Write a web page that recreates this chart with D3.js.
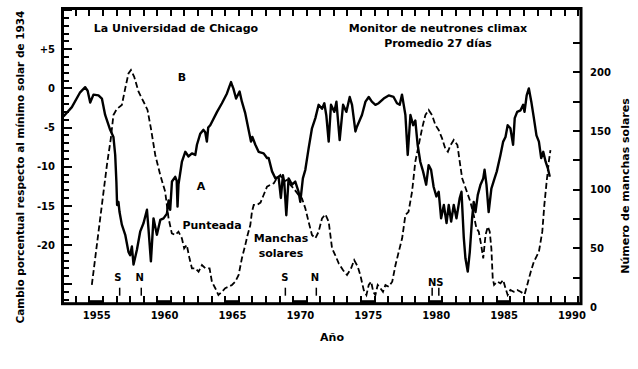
<!DOCTYPE html>
<html>
<head>
<meta charset="utf-8">
<script src="https://cdn.jsdelivr.net/npm/d3@7"></script>
<style>
  body { margin: 0; background: #fff; }
  svg { display: block; font-family: "DejaVu Sans", Verdana, sans-serif; font-weight: bold; }
</style>
</head>
<body>
<div id="chart"></div>
<script>
// neutron monitor, % change vs 1934 solar minimum (solid line)
const neutronYears = [1953.09,1953.71,1954.32,1954.69,1954.87,1955.06,1955.30,1955.67,1955.92,1956.16,1956.53,1956.77,1956.90,1956.99,1957.04,1957.14,1957.22,1957.39,1957.64,1957.88,1958.00,1958.13,1958.25,1958.50,1958.74,1958.99,1959.24,1959.35,1959.53,1959.72,1959.97,1960.22,1960.46,1960.71,1960.83,1960.95,1961.08,1961.32,1961.43,1961.49,1961.56,1961.81,1962.06,1962.30,1962.55,1962.80,1962.92,1963.16,1963.40,1963.53,1963.65,1963.75,1963.90,1964.40,1964.76,1965.13,1965.30,1965.43,1965.53,1965.60,1965.80,1966.06,1966.23,1966.48,1966.70,1966.90,1967.00,1967.22,1967.46,1967.83,1968.08,1968.20,1968.45,1968.70,1968.93,1969.10,1969.25,1969.35,1969.50,1969.67,1969.92,1970.16,1970.40,1970.53,1970.72,1970.90,1971.14,1971.39,1971.64,1971.88,1972.13,1972.30,1972.45,1972.62,1972.79,1973.04,1973.19,1973.43,1973.68,1973.92,1974.17,1974.34,1974.59,1974.70,1975.07,1975.33,1975.57,1975.80,1976.06,1976.30,1976.67,1977.04,1977.40,1977.65,1977.85,1978.02,1978.27,1978.44,1978.64,1978.84,1979.00,1979.17,1979.37,1979.57,1979.80,1979.98,1980.16,1980.35,1980.55,1980.72,1980.90,1981.10,1981.30,1981.46,1981.64,1981.83,1982.03,1982.27,1982.40,1982.57,1982.69,1982.86,1983.01,1983.18,1983.30,1983.43,1983.60,1983.80,1984.00,1984.10,1984.24,1984.40,1984.60,1984.80,1985.00,1985.27,1985.47,1985.64,1985.80,1986.00,1986.20,1986.32,1986.50,1986.75,1986.94,1987.04,1987.20,1987.36,1987.54,1987.73,1987.92,1988.10,1988.27,1988.42,1988.60,1988.76,1988.90];
const neutronPct = [-3.6,-2.4,-0.5,0.15,-0.3,-1.8,-0.8,-0.9,-1.3,-3.4,-5.3,-6.2,-8.5,-12,-14.9,-14.5,-15.8,-17.4,-18.7,-20.9,-21.3,-20.2,-22.5,-20.6,-18.3,-17.2,-15.5,-17.9,-22.1,-16.6,-18.7,-16.8,-16.6,-16.0,-14.3,-15.5,-11.9,-11.3,-11.8,-15.1,-12.3,-9.4,-8.1,-8.7,-8.3,-8.5,-7.2,-5.8,-5.3,-5.6,-6.8,-5.0,-4.7,-3.0,-1.9,-0.65,0.2,0.8,0.3,0,-1.3,-0.4,-1.7,-3.2,-5.1,-6.8,-6.2,-7.2,-8.1,-8.3,-8.9,-8.9,-10.6,-11.5,-11.3,-14.0,-11.1,-12.0,-16.2,-11.5,-12.3,-11.9,-13.2,-14.5,-11.5,-10.4,-7.7,-5.1,-3.8,-2.1,-2.6,-1.9,-3.5,-6.8,-2.1,-3.0,-1.7,-6.6,-2.1,-3.0,-1.1,-2.1,-5.5,-4.9,-3.4,-1.7,-1.1,-1.7,-2.1,-1.9,-1.3,-0.9,-1.1,-1.9,-2.1,-0.8,-3.4,-8.5,-3.4,-4.7,-4.1,-7.2,-9.4,-10.6,-12.3,-9.8,-10.4,-12.6,-13.8,-13.2,-16.6,-14.9,-17.2,-14.9,-17.0,-14.9,-16.6,-14.0,-13.2,-19.1,-21.7,-23.4,-20.9,-16.6,-14.5,-15.8,-13.6,-12.3,-11.5,-10.4,-12.3,-15.8,-12.8,-11.7,-10.6,-8.5,-6.8,-6.2,-4.7,-5.1,-7.2,-3.8,-3.0,-2.8,-2.1,-3.0,-0.9,0,-1.7,-3.8,-6.0,-6.8,-8.9,-8.1,-9.4,-10.2,-11.3];

// sunspot number (dashed line)
const sunspotYears = [1955.18,1955.55,1955.92,1956.29,1956.58,1956.77,1957.02,1957.39,1957.64,1957.88,1958.06,1958.30,1958.62,1958.99,1959.28,1959.53,1959.85,1960.22,1960.58,1960.83,1961.07,1961.32,1961.56,1961.81,1961.98,1962.17,1962.37,1962.55,1962.80,1963.04,1963.29,1963.53,1963.85,1964.02,1964.27,1964.50,1964.76,1965.00,1965.25,1965.50,1965.74,1965.99,1966.23,1966.48,1966.65,1966.85,1966.97,1967.10,1967.34,1967.60,1967.83,1968.08,1968.30,1968.58,1968.80,1969.06,1969.30,1969.55,1969.80,1970.04,1970.40,1970.65,1970.90,1971.14,1971.39,1971.64,1971.88,1972.13,1972.38,1972.62,1972.87,1973.10,1973.36,1973.67,1973.97,1974.27,1974.50,1974.76,1974.95,1975.20,1975.40,1975.57,1975.75,1975.90,1976.06,1976.23,1976.43,1976.62,1976.80,1977.04,1977.30,1977.54,1977.78,1978.03,1978.27,1978.50,1978.76,1979.00,1979.25,1979.50,1979.74,1979.98,1980.23,1980.48,1980.72,1980.97,1981.20,1981.40,1981.60,1981.83,1982.10,1982.27,1982.45,1982.70,1983.05,1983.30,1983.50,1983.67,1983.85,1984.00,1984.17,1984.34,1984.48,1984.60,1984.70,1984.80,1985.04,1985.27,1985.47,1985.64,1985.80,1986.00,1986.25,1986.50,1986.75,1987.05,1987.24,1987.50,1987.73,1988.10,1988.35,1988.50,1988.67,1988.83,1988.95];
const sunspotNum = [18.8,52.9,87,121,143.8,163.7,168.8,172.2,186.4,199.2,202,196.3,183.5,175,168,152.3,129.6,112.5,98.3,75.6,62.8,61.4,64.2,58.6,50,52.9,41.5,33,33,30,35.8,33,33,21.6,16,10.2,13,16,17.3,18.8,21.6,27.3,41.5,52.9,61.4,69.9,81.2,87,87,89,95.5,102.6,104,105.5,109.7,112.5,106.8,108.3,104,101.2,95.5,92.7,84.1,72.7,61.4,58.6,64.2,75.6,79,72.7,50,44.3,37.2,31.5,27.3,33,40,34.4,27.3,14.5,10.2,18.8,21.6,13,10.2,18.8,16,13,18.8,17.3,21.6,35.8,47.1,58.6,78.4,81.2,98.3,123.9,138.1,152.3,163.7,168,163.7,155.2,150.9,143.8,135.3,132.4,138.1,142.4,138.1,123.9,109.7,101.4,89.8,78.4,67.1,64.2,52.9,41.5,61.4,68.5,64.2,50,24.5,18.8,21.6,20.2,23,16,10.2,14.5,13,14.5,13,10.8,18.8,30.1,38.6,47.1,64.2,87,106.8,123.9,133.8];

// S / N polarity reversal marks
const markYears = [1957.23, 1958.82, 1969.43, 1971.71, 1980.24, 1980.73];
const markLabels = ["S", "N", "S", "N", "NS"];
const markLabelYears = [1957.1, 1958.7, 1969.4, 1971.6, 1980.5];

const yearLabels = [1955, 1960, 1965, 1970, 1975, 1980, 1985, 1990];
const pctLabels = [-20, -15, -10, -5, 0, 5];
const spotLabels = [0, 50, 100, 150, 200];

const W = 638, H = 369;
const pLeft = 62.5, pRight = 581, pTop = 8.5, pBottom = 303.7;

const svg = d3.select("#chart").append("svg")
  .attr("width", W).attr("height", H);

const x = d3.scaleLinear().domain([1953.02, 1991.2]).range([pLeft, pRight]);
const yL = d3.scaleLinear().domain([-27.5, 10.2]).range([pBottom, pTop]);
const yR = d3.scaleLinear().domain([2.8, 254.5]).range([pBottom, pTop]);

// thick segments on the baseline every 5 years
svg.selectAll(".seg")
  .data(yearLabels.filter(d => d < 1990))
  .enter().append("rect")
  .attr("x", d => x(d)).attr("width", d => x(d + 1) - x(d))
  .attr("y", pBottom - 3.5).attr("height", 3.5)
  .attr("fill", "#000");

// frame
svg.append("rect")
  .attr("x", pLeft).attr("y", pTop).attr("width", pRight - pLeft).attr("height", pBottom - pTop)
  .attr("fill", "none").attr("stroke", "#000").attr("stroke-width", 3);

// tick marks drawn from the scales, on top of the frame
function ticks(cls, vals, x1, x2, y1, y2) {
  svg.selectAll("line." + cls)
    .data(vals)
    .enter().append("line")
    .attr("class", cls)
    .attr("x1", x1).attr("x2", x2).attr("y1", y1).attr("y2", y2)
    .attr("stroke", "#000").attr("stroke-width", 2)
    .attr("shape-rendering", "crispEdges");
}
const yearTicks = d3.range(1954, 1992);
ticks("xb", yearTicks, d => x(d), d => x(d), pBottom, pBottom - 7.5);
ticks("xt", yearTicks, d => x(d), d => x(d), pTop, pTop + 7.5);
ticks("yl", d3.range(-27, 11).filter(d => d % 5 !== 0), pLeft, pLeft + 6, d => yL(d), d => yL(d));
ticks("ylm", d3.range(-25, 11, 5), pLeft, pLeft + 9, d => yL(d), d => yL(d));
ticks("yr", d3.range(25, 226, 25), pRight, pRight - 8.5, d => yR(d), d => yR(d));

// year labels centred in each year
svg.append("g").attr("transform", `translate(0,${pBottom})`)
  .call(d3.axisBottom(x).tickValues(yearLabels.map(d => d + 0.5)).tickSize(0).tickPadding(8.5)
    .tickFormat(d => Math.floor(d)))
  .call(g => g.select(".domain").remove())
  .selectAll("text").attr("font-size", 10).attr("font-weight", "bold").attr("fill", "#000")
  .attr("font-family", "DejaVu Sans");

// left axis labels
svg.append("g").attr("transform", `translate(${pLeft},0)`)
  .call(d3.axisLeft(yL).tickValues(pctLabels).tickSize(0).tickPadding(7.5)
    .tickFormat(d => d > 0 ? "+" + d : String(d)))
  .call(g => g.select(".domain").remove())
  .selectAll("text").attr("font-size", 10).attr("font-weight", "bold").attr("fill", "#000")
  .attr("font-family", "DejaVu Sans");

// right axis labels
svg.append("g").attr("transform", `translate(${pRight},0)`)
  .call(d3.axisRight(yR).tickValues(spotLabels).tickSize(0).tickPadding(9))
  .call(g => g.select(".domain").remove())
  .selectAll("text").attr("font-size", 10).attr("font-weight", "bold").attr("fill", "#000")
  .attr("font-family", "DejaVu Sans");

// sunspot curve (dashed)
const spotLine = d3.line().x(d => x(d[0])).y(d => yR(d[1]));
svg.append("path")
  .datum(d3.zip(sunspotYears, sunspotNum))
  .attr("d", spotLine)
  .attr("fill", "none").attr("stroke", "#000").attr("stroke-width", 1.8)
  .attr("stroke-dasharray", "6,3");

// neutron curve (solid)
const neutronLine = d3.line().x(d => x(d[0])).y(d => yL(d[1]));
svg.append("path")
  .datum(d3.zip(neutronYears, neutronPct))
  .attr("d", neutronLine)
  .attr("fill", "none").attr("stroke", "#000").attr("stroke-width", 2.4)
  .attr("stroke-linejoin", "round");

// S / N marks
svg.selectAll("line.mark")
  .data(markYears)
  .enter().append("line")
  .attr("class", "mark")
  .attr("x1", d => x(d)).attr("x2", d => x(d))
  .attr("y1", pBottom - 16).attr("y2", pBottom - 8)
  .attr("stroke", "#000").attr("stroke-width", 1.5);
svg.selectAll("text.markLabel")
  .data(markLabels)
  .enter().append("text")
  .attr("class", "markLabel")
  .attr("x", (d, i) => x(markLabelYears[i]))
  .attr("y", d => d === "NS" ? 286 : 281)
  .attr("text-anchor", "middle").attr("font-size", 10)
  .text(d => d);

// annotations
const notes = [
  ["La Universidad de Chicago", 176, 32],
  ["Monitor de neutrones climax", 438, 32],
  ["Promedio 27 días", 438, 47],
  ["B", 182, 81],
  ["A", 201, 190],
  ["Punteada", 212, 229],
  ["Manchas", 281, 242],
  ["solares", 281, 257]
];
svg.selectAll("text.note")
  .data(notes)
  .enter().append("text")
  .attr("class", "note")
  .attr("x", d => d[1]).attr("y", d => d[2])
  .attr("text-anchor", "middle").attr("font-size", 11)
  .text(d => d[0]);

// axis titles
svg.append("text")
  .attr("x", 332).attr("y", 341)
  .attr("text-anchor", "middle").attr("font-size", 11)
  .text("Año");
svg.append("text")
  .attr("transform", "translate(24,167) rotate(-90)")
  .attr("text-anchor", "middle").attr("font-size", 10.5)
  .text("Cambio porcentual respecto al mínimo solar de 1934");
svg.append("text")
  .attr("transform", "translate(629,186) rotate(-90)")
  .attr("text-anchor", "middle").attr("font-size", 11)
  .text("Número de manchas solares");
</script>
</body>
</html>
